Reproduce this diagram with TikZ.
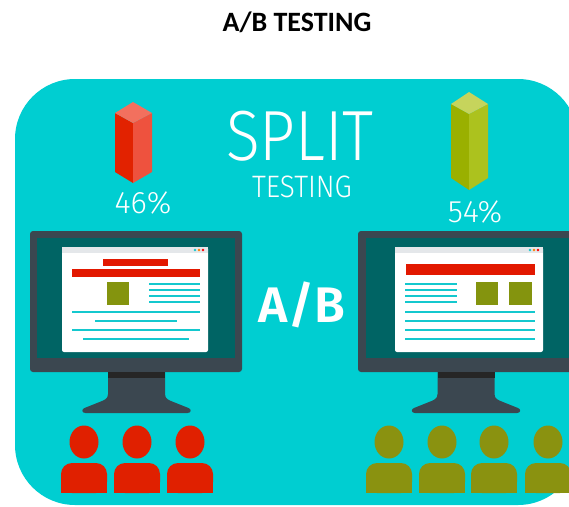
\documentclass[tikz,border=0pt]{standalone}
\usepackage{fontspec}
\setmainfont{Carlito}
\newfontfamily\thinfont{Fira Sans Light}
\newfontfamily\heavyfont{Fira Sans SemiBold}
\definecolor{panelcyan}{RGB}{0,206,209}
\definecolor{framegray}{RGB}{59,71,80}
\definecolor{screenteal}{RGB}{0,100,100}
\definecolor{barred}{RGB}{226,34,0}
\definecolor{barredlight}{RGB}{238,82,62}
\definecolor{barredtop}{RGB}{242,112,94}
\definecolor{bargreen}{RGB}{154,176,0}
\definecolor{bargreenlight}{RGB}{172,194,30}
\definecolor{bargreentop}{RGB}{198,212,92}
\definecolor{crowdred}{RGB}{224,32,0}
\definecolor{crowdolive}{RGB}{138,146,16}
\definecolor{pagered}{RGB}{226,24,0}
\definecolor{pageolive}{RGB}{132,148,14}
\definecolor{pageline}{RGB}{20,200,206}
\definecolor{barstrip}{RGB}{228,231,234}
\tikzset{
  whitetext/.style={text=white, inner sep=0pt, anchor=base, text depth=0pt},
  textline/.style={pageline, line width=2.6pt},
}
\begin{document}
\begin{tikzpicture}[x=1pt,y=-1pt]
\useasboundingbox (0,0) rectangle (569,506);

% heading
\node[inner sep=0pt, anchor=base, font=\bfseries\fontsize{28}{30}\selectfont] (title) at (297,31) {A/B TESTING};

% cyan panel, running past the right edge
\begin{scope}
  \clip (0,0) rectangle (569,506);
  \fill[panelcyan, rounded corners=60pt] (15,79) rectangle (578,505);
\end{scope}

% 3D bars
\fill[barred] (115,113) -- (133,123) -- (133,183) -- (115,172) -- cycle;
\fill[barredlight] (133,123) -- (152,113) -- (152,172) -- (133,183) -- cycle;
\fill[barredtop] (133,102) -- (152,113) -- (133,123) -- (115,113) -- cycle;

\fill[bargreen] (451,104) -- (469,114) -- (469,190) -- (451,178) -- cycle;
\fill[bargreenlight] (469,114) -- (488,104) -- (488,178) -- (469,190) -- cycle;
\fill[bargreentop] (469,92) -- (488,104) -- (469,114) -- (451,104) -- cycle;

% texts
\node[whitetext, font=\thinfont\fontsize{31}{32}\selectfont] (pa) at (143,213) {46\%};
\node[whitetext, font=\thinfont\fontsize{31}{32}\selectfont] (pb) at (475,222) {54\%};
\node[whitetext, font=\thinfont\fontsize{71}{72}\selectfont] (split) at (300,160) {\scalebox{0.88}[1]{SPLIT}};
\node[whitetext, font=\thinfont\fontsize{31}{32}\selectfont] (testing) at (302,197) {\scalebox{0.9}[1]{TESTING}};
\node[whitetext, font=\heavyfont\fontsize{50}{52}\selectfont] (ab) at (302,322) {A/B};

% monitors
\begin{scope}
  \clip (0,0) rectangle (569,506);
  % left monitor
  \fill[framegray, rounded corners=3pt] (30,231) rectangle (242,372);
  \fill[screenteal] (37,238) rectangle (235,358);
  \fill[white, rounded corners=2pt] (62,247) rectangle (208,352);
  \fill[barstrip] (62,247) rectangle (208,253);
  \fill[pageline] (195,250) circle (1.4pt);
  \fill[orange] (199,250) circle (1.4pt);
  \fill[red] (203,250) circle (1.4pt);
  \fill[pagered] (103,259) rectangle (168,266);
  \fill[pagered] (72,269) rectangle (200,277);
  \fill[pageolive] (107,282) rectangle (129,305);
  \foreach \yy in {284,290,296,302} \draw[textline] (149,\yy) -- (200,\yy);
  \draw[textline] (72,312) -- (200,312);
  \draw[textline] (95,321) -- (177,321);
  \draw[textline] (72,330) -- (200,330);
  \draw[textline] (83,339) -- (189,339);

  % right monitor
  \fill[framegray, rounded corners=3pt] (358,231) rectangle (580,372);
  \fill[screenteal] (366,238) rectangle (573,358);
  \fill[white, rounded corners=2pt] (395,247) rectangle (543,352);
  \fill[barstrip] (395,247) rectangle (543,253);
  \fill[pageline] (530,250) circle (1.4pt);
  \fill[orange] (534,250) circle (1.4pt);
  \fill[red] (538,250) circle (1.4pt);
  \fill[pagered] (406,264) rectangle (535,275);
  \foreach \yy in {284,290,296,302} \draw[textline] (405,\yy) -- (457,\yy);
  \fill[pageolive] (476,282) rectangle (498,305);
  \fill[pageolive] (509,282) rectangle (532,305);
  \foreach \yy in {312,321,330,339} \draw[textline] (405,\yy) -- (535,\yy);
\end{scope}

% stands
\foreach \cx in {136.5,466} {
  \begin{scope}[shift={(\cx,0)}]
    \fill[framegray] (-28.5,372) -- (-28.5,394)
      .. controls (-28.5,399) and (-32,400) .. (-37,402) -- (-52,408)
      .. controls (-55,409) and (-55,413) .. (-51,413) -- (51,413)
      .. controls (55,413) and (55,409) .. (52,408) -- (37,402)
      .. controls (32,400) and (28.5,399) .. (28.5,394) -- (28.5,372) -- cycle;
    \fill[black!85] (-28.5,372) rectangle (28.5,378);
  \end{scope}
}

% audiences
\begin{scope}
  \clip (0,0) rectangle (569,506);
  \foreach \cx/\col in {84/crowdred,137/crowdred,190/crowdred,389/crowdolive,442/crowdolive,494/crowdolive,548/crowdolive} {
    \begin{scope}[shift={(\cx,0)}]
      \fill[\col] (0,442) ellipse [x radius=14.5pt, y radius=16.5pt];
      \fill[\col, rounded corners=11pt] (-23,463) rectangle (23,493);
      \fill[\col] (-23,478) rectangle (23,493);
    \end{scope}
  }
\end{scope}
\end{tikzpicture}
\end{document}
